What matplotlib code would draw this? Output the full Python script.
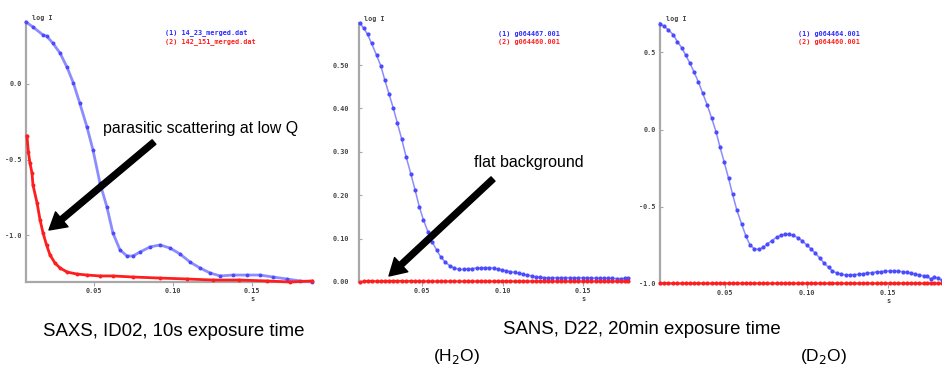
import matplotlib
matplotlib.use("Agg")
import matplotlib.pyplot as plt

# ---- data ----
# SAXS ID02 (panel 1)
saxs_q_sample = [0.007, 0.0114, 0.0178, 0.020, 0.024, 0.0285, 0.033, 0.037, 0.041, 0.0456,
                 0.0494, 0.0538, 0.0582, 0.062, 0.0665, 0.0709, 0.0747, 0.0791, 0.0855, 0.0918,
                 0.0981, 0.1045, 0.1108, 0.1171, 0.1234, 0.1298, 0.138, 0.1468, 0.155, 0.1633,
                 0.172, 0.1804, 0.188]
saxs_i_sample = [0.41, 0.377, 0.324, 0.317, 0.27, 0.205, 0.11, 0.006, -0.126, -0.285,
                 -0.437, -0.655, -0.814, -0.986, -1.098, -1.138, -1.138, -1.112, -1.078, -1.065,
                 -1.085, -1.125, -1.178, -1.217, -1.25, -1.27, -1.264, -1.264, -1.264, -1.277,
                 -1.29, -1.303, -1.31]
saxs_q_buffer = [0.0076, 0.0085, 0.0095, 0.0108, 0.0114, 0.014, 0.0159, 0.0178, 0.020, 0.0222,
                 0.0253, 0.0285, 0.033, 0.039, 0.0456, 0.0538, 0.062, 0.0747, 0.0918, 0.1089,
                 0.1253, 0.142, 0.1595, 0.174, 0.188]
saxs_i_buffer = [-0.344, -0.45, -0.523, -0.589, -0.668, -0.787, -0.9, -0.986, -1.065, -1.131,
                 -1.184, -1.217, -1.244, -1.257, -1.264, -1.27, -1.27, -1.277, -1.284, -1.29,
                 -1.297, -1.297, -1.303, -1.31, -1.303]

# SANS D22, H2O (panel 2)
h2o_q = [0.0112, 0.0135, 0.0159, 0.0184, 0.0215, 0.0242, 0.0267, 0.0293, 0.032, 0.0345,
         0.0372, 0.0399, 0.0428, 0.0455, 0.0481, 0.0506, 0.0535, 0.056, 0.0589, 0.0614,
         0.064, 0.067, 0.0696, 0.0727, 0.0758, 0.0784, 0.081, 0.0838, 0.0865, 0.089,
         0.0917, 0.0943, 0.097, 0.0996, 0.1022, 0.1048, 0.1075, 0.110, 0.1127, 0.1153,
         0.118, 0.1206, 0.1232, 0.126, 0.1285, 0.131, 0.134, 0.1365, 0.139, 0.142,
         0.1445, 0.147, 0.150, 0.1525, 0.155, 0.158, 0.1605, 0.163, 0.1657, 0.1683,
         0.171, 0.1735, 0.176, 0.178]
h2o_sample = [0.596, 0.585, 0.571, 0.55, 0.523, 0.498, 0.465, 0.433, 0.40, 0.366,
              0.329, 0.289, 0.25, 0.212, 0.174, 0.144, 0.116, 0.093, 0.074, 0.058,
              0.047, 0.0376, 0.033, 0.029, 0.029, 0.030, 0.031, 0.032, 0.033, 0.033,
              0.033, 0.032, 0.030, 0.028, 0.026, 0.024, 0.022, 0.020, 0.018, 0.016,
              0.014, 0.012, 0.011, 0.010, 0.010, 0.010, 0.010, 0.010, 0.010, 0.010,
              0.0095, 0.010, 0.010, 0.010, 0.0095, 0.009, 0.009, 0.009, 0.009, 0.0085,
              0.008, 0.008, 0.0085, 0.009]
h2o_buffer = [0.0, 0.002, 0.003, 0.003, 0.002, 0.002, 0.003, 0.003, 0.003, 0.003,
              0.003, 0.002, 0.003, 0.002, 0.002, 0.002, 0.002, 0.002, 0.002, 0.002,
              0.002, 0.002, 0.002, 0.002, 0.002, 0.002, 0.002, 0.002, 0.002, 0.002,
              0.002, 0.002, 0.002, 0.002, 0.002, 0.002, 0.002, 0.002, 0.002, 0.002,
              0.002, 0.002, 0.002, 0.002, 0.002, 0.002, 0.002, 0.002, 0.002, 0.002,
              0.002, 0.002, 0.002, 0.002, 0.002, 0.002, 0.002, 0.002, 0.002, 0.002,
              0.002, 0.002, 0.002, 0.002]

# SANS D22, D2O (panel 3)
d2o_q = [0.0102, 0.0128, 0.0153, 0.0184, 0.0208, 0.0235, 0.0259, 0.0286, 0.031, 0.0337,
         0.0363, 0.0392, 0.0418, 0.0445, 0.0469, 0.0496, 0.0522, 0.0547, 0.0573, 0.0602,
         0.0629, 0.0653, 0.068, 0.0706, 0.0735, 0.0759, 0.0786, 0.0816, 0.0841, 0.0867,
         0.0894, 0.092, 0.0949, 0.0973, 0.100, 0.1027, 0.1053, 0.1082, 0.1108, 0.1135,
         0.1159, 0.1186, 0.1214, 0.124, 0.1266, 0.1293, 0.132, 0.1347, 0.1373, 0.140,
         0.143, 0.1455, 0.148, 0.151, 0.1535, 0.156, 0.159, 0.1615, 0.164, 0.1667,
         0.169, 0.1717, 0.174, 0.176, 0.178, 0.1805, 0.183]
d2o_sample = [0.685, 0.668, 0.646, 0.613, 0.57, 0.53, 0.483, 0.428, 0.374, 0.309,
              0.237, 0.157, 0.076, -0.013, -0.111, -0.213, -0.315, -0.42, -0.522, -0.611,
              -0.691, -0.746, -0.772, -0.776, -0.763, -0.741, -0.72, -0.698, -0.685, -0.678,
              -0.678, -0.685, -0.702, -0.72, -0.746, -0.772, -0.80, -0.833, -0.865, -0.893,
              -0.915, -0.93, -0.937, -0.941, -0.941, -0.939, -0.937, -0.933, -0.93, -0.926,
              -0.922, -0.92, -0.918, -0.915, -0.915, -0.918, -0.92, -0.925, -0.93, -0.935,
              -0.942, -0.946, -0.950, -0.967, -0.955, -0.962, -0.976]
d2o_buffer = [-0.995, -0.993, -0.994, -0.994, -0.995, -0.994, -0.994, -0.995, -0.994, -0.994,
              -0.994, -0.995, -0.994, -0.994, -0.995, -0.994, -0.994, -0.994, -0.995, -0.994,
              -0.994, -0.995, -0.994, -0.994, -0.994, -0.995, -0.994, -0.994, -0.994, -0.995,
              -0.994, -0.994, -0.995, -0.994, -0.994, -0.994, -0.995, -0.994, -0.994, -0.995,
              -0.994, -0.994, -0.994, -0.995, -0.994, -0.994, -0.994, -0.995, -0.994, -0.994,
              -0.995, -0.994, -0.994, -0.994, -0.995, -0.994, -0.994, -0.994, -0.995, -0.994,
              -0.994, -0.995, -0.994, -0.994, -0.994, -0.995, -0.994]

legend_saxs = ["(1) 14_23_merged.dat", "(2) 142_151_merged.dat"]
legend_h2o = ["(1) g064467.001", "(2) g064460.001"]
legend_d2o = ["(1) g064464.001", "(2) g064460.001"]

BLUE_LINE = "#8c8cff"
BLUE_MK = "#4a4aff"
RED = "#ff1e1e"
AXIS_GRAY = "#a8a8a8"
MONO = dict(family="DejaVu Sans Mono", fontweight="bold", fontsize=4.9, color="#444444")

W, H = 942, 367
fig = plt.figure(figsize=(W / 100, H / 100), dpi=100)


def px_axes(left, top, right, bottom):
    return fig.add_axes([left / W, 1 - bottom / H, (right - left) / W, (bottom - top) / H])


def style(ax, xlim, ylim, yticks, yfmt, legend, legend_x, ypad):
    ax.set_xlim(*xlim)
    ax.set_ylim(*ylim)
    for side in ("top", "right"):
        ax.spines[side].set_visible(False)
    for side in ("left", "bottom"):
        ax.spines[side].set_color(AXIS_GRAY)
        ax.spines[side].set_linewidth(1.6)
    ax.set_xticks([0.05, 0.10, 0.15])
    ax.set_xticklabels(["0.05", "0.10", "0.15"], **MONO)
    ax.set_yticks(yticks)
    ax.set_yticklabels([yfmt.format(v) for v in yticks], **MONO)
    ax.tick_params(axis="x", direction="out", length=3, width=0.8, color=AXIS_GRAY, pad=1.5)
    ax.tick_params(axis="y", direction="in", length=2, width=0.8, color=AXIS_GRAY, pad=ypad)
    ax.text(0.02, 1.005, "log I", transform=ax.transAxes, va="bottom", ha="left", **MONO)
    ax.annotate("s", xy=(0.15, 0), xycoords=("data", "axes fraction"),
                xytext=(0, -12), textcoords="offset points", ha="center", va="center", **MONO)
    mono_c = {k: v for k, v in MONO.items() if k != "color"}
    ax.text(legend_x, 0.958, legend[0], transform=ax.transAxes, color="#2a2aff",
            va="center", **mono_c)
    ax.text(legend_x, 0.926, legend[1], transform=ax.transAxes, color=RED,
            va="center", **mono_c)


def curves(ax, q1, y1, q2, y2, ms, lw):
    ax.plot(q1, y1, color=BLUE_LINE, lw=lw, marker="o", ms=ms, mfc=BLUE_MK, mec=BLUE_MK,
            clip_on=False, zorder=3)
    ax.plot(q2, y2, color=RED, lw=lw, marker="o", ms=ms, mfc=RED, mec=RED,
            clip_on=False, zorder=3)


# panel 1: SAXS
ax1 = px_axes(26, 22, 312, 282)
curves(ax1, saxs_q_sample, saxs_i_sample, saxs_q_buffer, saxs_i_buffer, 1.8, 2.0)
style(ax1, (0.007, 0.188), (-1.31, 0.41), [-1.0, -0.5, 0.0], "{:.1f}", legend_saxs, 0.486, 3)

# panel 2: SANS H2O
ax2 = px_axes(359, 23, 628, 282)
curves(ax2, h2o_q, h2o_sample, h2o_q, h2o_buffer, 2.0, 1.1)
style(ax2, (0.0106, 0.178), (0.0, 0.597), [0.0, 0.1, 0.2, 0.3, 0.4, 0.5], "{:.2f}",
      legend_h2o, 0.517, 7)

# panel 3: SANS D2O
ax3 = px_axes(660, 23, 942, 284)
curves(ax3, d2o_q, d2o_sample, d2o_q, d2o_buffer, 2.0, 1.1)
style(ax3, (0.0102, 0.183), (-1.0, 0.69), [-1.0, -0.5, 0.0, 0.5], "{:.1f}", legend_d2o, 0.489, 3)


# annotations (figure pixel coordinates, y measured from the top of the image)
def fpx(x, y):
    return (x / W, 1 - y / H)


arrow = dict(facecolor="black", edgecolor="black", width=4.2, headwidth=14, headlength=12)
fig.text(*fpx(103, 128), "parasitic scattering at low Q", family="Liberation Sans",
         fontsize=11.4, va="center", ha="left")
fig.add_artist(plt.Annotation("", xy=fpx(49, 230), xytext=fpx(154, 142),
                              xycoords="figure fraction", textcoords="figure fraction",
                              arrowprops=arrow))
fig.text(*fpx(474, 163), "flat background", family="Liberation Sans",
         fontsize=11.5, va="center", ha="left")
fig.add_artist(plt.Annotation("", xy=fpx(389, 276), xytext=fpx(493, 179),
                              xycoords="figure fraction", textcoords="figure fraction",
                              arrowprops=arrow))

# captions
cap = dict(family="Liberation Sans", fontsize=13.4, va="center")
fig.text(*fpx(43, 331), "SAXS, ID02, 10s exposure time", ha="left", **cap)
fig.text(*fpx(503, 329), "SANS, D22, 20min exposure time", ha="left", **cap)
sub = dict(family="Liberation Sans", fontsize=12.5, va="center")
fig.text(*fpx(433, 356), "(H$_2$O)", ha="left", **sub)
fig.text(*fpx(800, 356), "(D$_2$O)", ha="left", **sub)

fig.savefig("out.png", dpi=100)
